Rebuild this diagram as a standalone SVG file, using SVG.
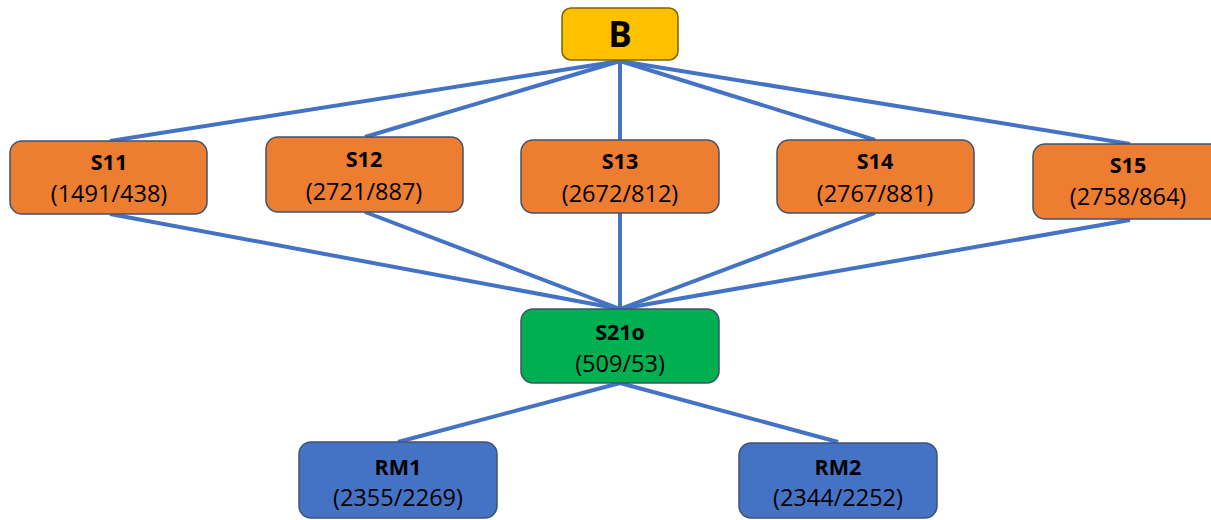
<svg xmlns="http://www.w3.org/2000/svg" width="1211" height="520" viewBox="0 0 1211 520">
<style>
.box{stroke:#42526E;stroke-width:1.5}
.b{fill:#FFC000;stroke:#7F6000}
.o{fill:#ED7D31}
.g{fill:#00B050}
.bl{fill:#4472C4}
.t{font-family:"Open Sans","Liberation Sans",sans-serif;font-weight:bold;font-size:21.5px;fill:#000;text-anchor:middle}
.n{font-family:"Open Sans","Liberation Sans",sans-serif;font-size:23.5px;fill:#000;text-anchor:middle}
.bt{font-family:"Open Sans","Liberation Sans",sans-serif;font-weight:bold;font-size:35px;fill:#000;text-anchor:middle}
#edges line{stroke:#4472C4;stroke-width:4;stroke-linecap:butt}
</style>
<g id="edges">
<line x1="620" y1="61" x2="110" y2="141"/>
<line x1="620" y1="61" x2="365" y2="137"/>
<line x1="620" y1="61" x2="620" y2="140"/>
<line x1="620" y1="61" x2="875" y2="140"/>
<line x1="620" y1="61" x2="1130" y2="144"/>
<line x1="110" y1="214" x2="620" y2="309"/>
<line x1="365" y1="212" x2="620" y2="309"/>
<line x1="620" y1="213" x2="620" y2="309"/>
<line x1="875" y1="213" x2="620" y2="309"/>
<line x1="1130" y1="220" x2="620" y2="309"/>
<line x1="620" y1="383" x2="398" y2="442"/>
<line x1="620" y1="383" x2="838" y2="442"/>
</g>
<g id="B">
<rect class="box b" x="562" y="8" width="116" height="52" rx="9"/>
<text class="bt" x="620" y="47">B</text>
</g>
<g id="S11">
<rect class="box o" x="10" y="141" width="197" height="73" rx="12"/>
<text class="t" x="109" y="170">S11</text>
<text class="n" x="109" y="202">(1491/438)</text>
</g>
<g id="S12">
<rect class="box o" x="266" y="137" width="197" height="75" rx="12"/>
<text class="t" x="364" y="167">S12</text>
<text class="n" x="364" y="200">(2721/887)</text>
</g>
<g id="S13">
<rect class="box o" x="521" y="140" width="198" height="73" rx="12"/>
<text class="t" x="620" y="169">S13</text>
<text class="n" x="620" y="202">(2672/812)</text>
</g>
<g id="S14">
<rect class="box o" x="777" y="140" width="197" height="73" rx="12"/>
<text class="t" x="875" y="169">S14</text>
<text class="n" x="875" y="202">(2767/881)</text>
</g>
<g id="S15">
<rect class="box o" x="1033" y="144" width="196" height="75" rx="12"/>
<text class="t" x="1128" y="173">S15</text>
<text class="n" x="1128" y="205">(2758/864)</text>
</g>
<g id="S21o">
<rect class="box g" x="521" y="309" width="198" height="74" rx="12"/>
<text class="t" x="620" y="340">S21o</text>
<text class="n" x="620" y="372">(509/53)</text>
</g>
<g id="RM1">
<rect class="box bl" x="299" y="442" width="198" height="76" rx="12"/>
<text class="t" x="398" y="475">RM1</text>
<text class="n" x="398" y="506">(2355/2269)</text>
</g>
<g id="RM2">
<rect class="box bl" x="739" y="443" width="198" height="75" rx="12"/>
<text class="t" x="838" y="475">RM2</text>
<text class="n" x="838" y="506">(2344/2252)</text>
</g>
</svg>
